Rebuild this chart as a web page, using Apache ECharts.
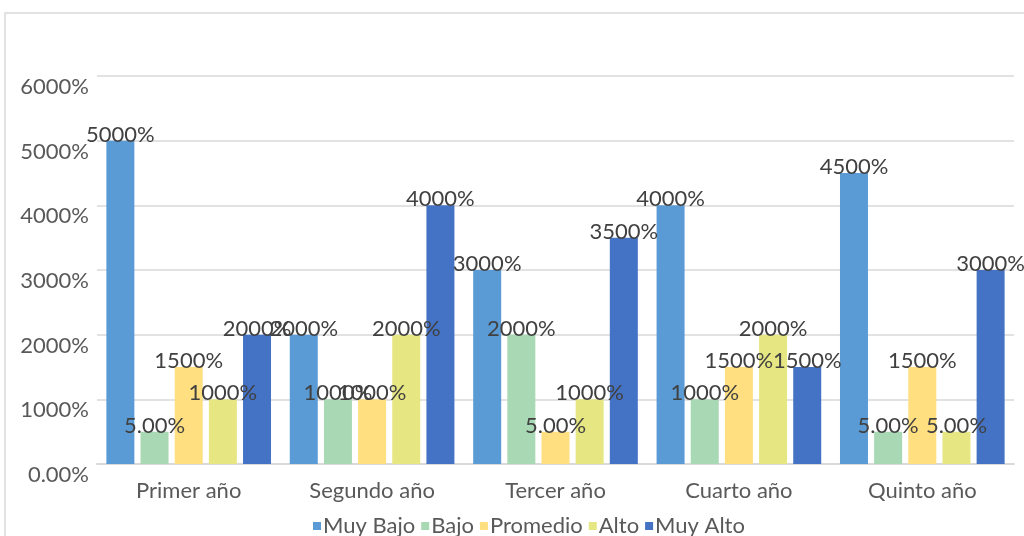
<!DOCTYPE html>
<html>
<head>
<meta charset="utf-8">
<script src="https://cdn.jsdelivr.net/npm/echarts@6/dist/echarts.min.js"></script>
<style>
  html, body { margin: 0; padding: 0; background: #fff; }
  #main { width: 1024px; height: 536px; }
</style>
</head>
<body>
<div id="main"></div>
<script>
// categories and series values (in %)
var years = ["Primer año", "Segundo año", "Tercer año", "Cuarto año", "Quinto año"];
var muyBajo = [5000, 2000, 3000, 4000, 4500];
var bajo = [500, 1000, 2000, 1000, 500];
var promedio = [1500, 1000, 500, 1500, 1500];
var alto = [1000, 2000, 1000, 2000, 500];
var muyAlto = [2000, 4000, 3500, 1500, 3000];

var names = ["Muy Bajo", "Bajo", "Promedio", "Alto", "Muy Alto"];
var colors = ["#5b9bd5", "#a9d8b4", "#ffdf80", "#e6e683", "#4472c4"];
var font = "Lato, 'Liberation Sans', sans-serif";
var fs = 22;

// the source sheet prints 500 as "5.00%" and 0 as "0.00%"
function pct(v) {
    if (v === 0) return "0.00%";
    if (v === 500) return "5.00%";
    return v + "%";
}

var allData = [muyBajo, bajo, promedio, alto, muyAlto];
var series = [];
for (var i = 0; i < 5; i++) {
    series.push({
        name: names[i],
        type: "bar",
        data: allData[i],
        barWidth: 28,
        barGap: "22%",
        itemStyle: { color: colors[i] },
        label: {
            show: true,
            position: "top",
            distance: -5,
            color: "#404040",
            fontSize: fs,
            fontFamily: font,
            formatter: function (p) { return pct(p.value); }
        }
    });
}

var myChart = echarts.init(document.getElementById("main"));
myChart.setOption({
    backgroundColor: "#fff",
    animation: false,
    graphic: [{
        type: "rect",
        shape: { x: 5, y: 13, width: 1040, height: 540 },
        style: { fill: "none", stroke: "#d9d9d9", lineWidth: 1.5 },
        silent: true
    }],
    grid: { left: 97, right: 10, top: 76, bottom: 72 },
    legend: {
        data: names,
        bottom: -6,
        left: 308,
        itemWidth: 8,
        itemHeight: 8,
        itemGap: 6,
        icon: "rect",
        textStyle: { color: "#595959", fontSize: fs, fontFamily: font, padding: [0, 0, 0, -3] }
    },
    xAxis: {
        type: "category",
        data: years,
        axisLine: { lineStyle: { color: "#d9d9d9", width: 2 } },
        axisTick: { show: false },
        axisLabel: { color: "#595959", fontSize: fs, fontFamily: font, margin: 16 }
    },
    yAxis: {
        type: "value",
        min: 0,
        max: 6000,
        interval: 1000,
        axisLine: { show: false },
        axisTick: { show: false },
        splitLine: { lineStyle: { color: "#d9d9d9", width: 1.5 } },
        axisLabel: {
            color: "#595959",
            fontSize: fs,
            fontFamily: font,
            margin: 8,
            verticalAlign: "top",
            formatter: function (v) { return pct(v); }
        }
    },
    series: series
});
</script>
</body>
</html>
